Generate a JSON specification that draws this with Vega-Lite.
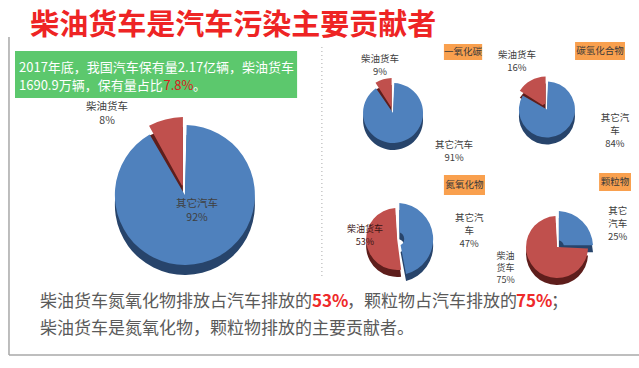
{
  "$schema": "https://vega.github.io/schema/vega-lite/v6.json",
  "background": "white",
  "padding": {"left": 8, "top": 12, "right": 2, "bottom": 0},
  "config": {"view": {"stroke": null}, "font": "Noto Sans CJK SC"},
  "title": {"text": "柴油货车是汽车污染主要贡献者", "anchor": "start", "dx": 22, "dy": 4, "fontSize": 29, "fontWeight": "bold", "color": "#ee2424", "font": "Noto Sans CJK SC", "offset": -1},
  "datasets": {
    "fleet": [
      {"cat": "其它汽车", "share": 92, "ord": 1, "label": "其它汽车\n92%"},
      {"cat": "柴油货车", "share": 8, "ord": 2, "label": "柴油货车\n8%"}
    ],
    "co": [
      {"cat": "其它汽车", "share": 91, "ord": 1, "label": "其它汽车\n91%"},
      {"cat": "柴油货车", "share": 9, "ord": 2, "label": "柴油货车\n9%"}
    ],
    "hc": [
      {"cat": "其它汽车", "share": 84, "ord": 1, "label": "其它汽\n车\n84%"},
      {"cat": "柴油货车", "share": 16, "ord": 2, "label": "柴油货车\n16%"}
    ],
    "nox": [
      {"cat": "其它汽车", "share": 47, "ord": 1, "label": "其它汽\n车\n47%"},
      {"cat": "柴油货车", "share": 53, "ord": 2, "label": "柴油货车\n53%"}
    ],
    "pm": [
      {"cat": "其它汽车", "share": 25, "ord": 1, "label": "其它\n汽车\n25%"},
      {"cat": "柴油货车", "share": 75, "ord": 2, "label": "柴油\n货车\n75%"}
    ],
    "note": [
      {"seg": "l1", "text": "2017年底，我国汽车保有量2.17亿辆，柴油货车"},
      {"seg": "l2a", "text": "1690.9万辆，保有量占比"},
      {"seg": "l2b", "text": "7.8%"},
      {"seg": "l2c", "text": "。"}
    ],
    "boxes": [
      {"pollutant": "一氧化碳"},
      {"pollutant": "碳氢化合物"},
      {"pollutant": "氮氧化物"},
      {"pollutant": "颗粒物"}
    ],
    "summary": [
      {"seg": "a", "text": "柴油货车氮氧化物排放占汽车排放的"},
      {"seg": "b", "text": "53%"},
      {"seg": "c", "text": "，颗粒物占汽车排放的"},
      {"seg": "d", "text": "75%"},
      {"seg": "e", "text": "；"},
      {"seg": "f", "text": "柴油货车是氮氧化物，颗粒物排放的主要贡献者。"}
    ]
  },
  "spacing": 2,
  "bounds": "flush",
  "hconcat": [
    {
      "width": 310,
      "height": 250,
      "layer": [
        {
          "data": {"name": "note"},
          "transform": [{"filter": "datum.seg=='l1'"}],
          "mark": {"type": "rule", "color": "#a8a8a8", "strokeWidth": 1.5},
          "encoding": {
            "x": {"datum": -0.0194, "type": "quantitative", "scale": {"domain": [0, 1]}, "axis": null},
            "x2": {"datum": 2.026},
            "y": {"datum": 1.272, "type": "quantitative", "scale": {"domain": [0, 1], "reverse": true}, "axis": null}
          }
        },
        {
          "data": {"name": "note"},
          "transform": [{"filter": "datum.seg=='l1'"}],
          "mark": {"type": "rule", "color": "#a8a8a8", "strokeWidth": 1.5},
          "encoding": {
            "x": {"datum": -0.0194, "type": "quantitative", "scale": {"domain": [0, 1]}, "axis": null},
            "y": {"datum": 0, "type": "quantitative", "scale": {"domain": [0, 1], "reverse": true}, "axis": null},
            "y2": {"datum": 1.272}
          }
        },
        {
          "data": {"name": "note"},
          "transform": [{"filter": "datum.seg=='l1'"}],
          "mark": {"type": "rule", "color": "#a8a8a8", "strokeWidth": 1.5},
          "encoding": {
            "x": {"datum": 2.026, "type": "quantitative", "scale": {"domain": [0, 1]}, "axis": null},
            "y": {"datum": 0, "type": "quantitative", "scale": {"domain": [0, 1], "reverse": true}, "axis": null},
            "y2": {"datum": 1.272}
          }
        },
        {
          "data": {"name": "note"},
          "transform": [{"filter": "datum.seg=='l1'"}],
          "mark": {"type": "rect", "color": "#5cc86d"},
          "encoding": {
            "x": {"datum": 0, "type": "quantitative", "scale": {"domain": [0, 1]}, "axis": null},
            "x2": {"datum": 0.91},
            "y": {"datum": 0.056, "type": "quantitative", "scale": {"domain": [0, 1], "reverse": true}, "axis": null},
            "y2": {"datum": 0.244}
          }
        },
        {
          "data": {"name": "note"},
          "transform": [{"filter": "datum.seg=='l1'"}],
          "mark": {"type": "text", "align": "left", "baseline": "middle", "fontSize": 13, "color": "white"},
          "encoding": {
            "text": {"field": "text"},
            "x": {"datum": 0.0129, "type": "quantitative", "scale": {"domain": [0, 1]}, "axis": null},
            "y": {"datum": 0.122, "type": "quantitative", "scale": {"domain": [0, 1], "reverse": true}, "axis": null}
          }
        },
        {
          "data": {"name": "note"},
          "transform": [{"filter": "datum.seg=='l2a'"}],
          "mark": {"type": "text", "align": "left", "baseline": "middle", "fontSize": 13, "color": "white"},
          "encoding": {
            "text": {"field": "text"},
            "x": {"datum": 0.0129, "type": "quantitative", "scale": {"domain": [0, 1]}, "axis": null},
            "y": {"datum": 0.196, "type": "quantitative", "scale": {"domain": [0, 1], "reverse": true}, "axis": null}
          }
        },
        {
          "data": {"name": "note"},
          "transform": [{"filter": "datum.seg=='l2b'"}],
          "mark": {"type": "text", "align": "left", "baseline": "middle", "fontSize": 13, "color": "#d9201c"},
          "encoding": {
            "text": {"field": "text"},
            "x": {"datum": 0.479, "type": "quantitative", "scale": {"domain": [0, 1]}, "axis": null},
            "y": {"datum": 0.196, "type": "quantitative", "scale": {"domain": [0, 1], "reverse": true}, "axis": null}
          }
        },
        {
          "data": {"name": "note"},
          "transform": [{"filter": "datum.seg=='l2c'"}],
          "mark": {"type": "text", "align": "left", "baseline": "middle", "fontSize": 13, "color": "white"},
          "encoding": {
            "text": {"field": "text"},
            "x": {"datum": 0.574, "type": "quantitative", "scale": {"domain": [0, 1]}, "axis": null},
            "y": {"datum": 0.196, "type": "quantitative", "scale": {"domain": [0, 1], "reverse": true}, "axis": null}
          }
        },
        {
          "data": {"name": "note"},
          "transform": [{"filter": "datum.seg=='l1'"}],
          "mark": {"type": "rule", "color": "#aaaaaa", "strokeDash": [1, 3], "strokeWidth": 1},
          "encoding": {
            "x": {"datum": 0.99, "type": "quantitative", "scale": {"domain": [0, 1]}, "axis": null},
            "y": {"datum": 0.04, "type": "quantitative", "scale": {"domain": [0, 1], "reverse": true}, "axis": null},
            "y2": {"datum": 0.96}
          }
        },
        {
          "data": {"name": "fleet"},
          "mark": {"type": "arc", "padAngle": 0.05, "radius": {"expr": "datum.cat=='柴油货车' ? 78 : 70"}, "radius2": {"expr": "datum.cat=='柴油货车' ? 10 : 0"}},
          "encoding": {
            "theta": {"field": "share", "type": "quantitative", "stack": true},
            "order": {"field": "ord"},
            "color": {"condition": {"test": "datum.cat=='柴油货车'", "value": "#5e1e1c"}, "value": "#27446b"},
            "x": {"datum": 0.548, "type": "quantitative", "scale": {"domain": [0, 1]}, "axis": null},
            "y": {"datum": 0.672, "type": "quantitative", "scale": {"domain": [0, 1], "reverse": true}, "axis": null}
          }
        },
        {
          "data": {"name": "fleet"},
          "mark": {"type": "arc", "padAngle": 0.05, "radius": {"expr": "datum.cat=='柴油货车' ? 78 : 70"}, "radius2": {"expr": "datum.cat=='柴油货车' ? 10 : 0"}},
          "encoding": {
            "theta": {"field": "share", "type": "quantitative", "stack": true},
            "order": {"field": "ord"},
            "color": {"condition": {"test": "datum.cat=='柴油货车'", "value": "#c0504d"}, "value": "#4f81bd"},
            "x": {"datum": 0.548, "type": "quantitative", "scale": {"domain": [0, 1]}, "axis": null},
            "y": {"datum": 0.632, "type": "quantitative", "scale": {"domain": [0, 1], "reverse": true}, "axis": null}
          }
        },
        {
          "data": {"name": "fleet"},
          "transform": [{"filter": "datum.cat=='柴油货车'"}],
          "mark": {"type": "text", "lineBreak": "\n", "lineHeight": 14, "fontSize": 10.5, "color": "#404040", "baseline": "middle"},
          "encoding": {
            "text": {"field": "label"},
            "x": {"datum": 0.297, "type": "quantitative", "scale": {"domain": [0, 1]}, "axis": null},
            "y": {"datum": 0.28, "type": "quantitative", "scale": {"domain": [0, 1], "reverse": true}, "axis": null}
          }
        },
        {
          "data": {"name": "fleet"},
          "transform": [{"filter": "datum.cat=='其它汽车'"}],
          "mark": {"type": "text", "lineBreak": "\n", "lineHeight": 14, "fontSize": 10.5, "color": "#404040", "baseline": "middle"},
          "encoding": {
            "text": {"field": "label"},
            "x": {"datum": 0.587, "type": "quantitative", "scale": {"domain": [0, 1]}, "axis": null},
            "y": {"datum": 0.668, "type": "quantitative", "scale": {"domain": [0, 1], "reverse": true}, "axis": null}
          }
        },
        {
          "data": {"name": "summary"},
          "transform": [{"filter": "datum.seg=='a'"}],
          "mark": {"type": "text", "align": "left", "baseline": "middle", "fontSize": 17, "color": "#5a5a5a"},
          "encoding": {
            "text": {"field": "text"},
            "x": {"datum": 0.0806, "type": "quantitative", "scale": {"domain": [0, 1]}, "axis": null},
            "y": {"datum": 1.058, "type": "quantitative", "scale": {"domain": [0, 1], "reverse": true}, "axis": null}
          }
        },
        {
          "data": {"name": "summary"},
          "transform": [{"filter": "datum.seg=='b'"}],
          "mark": {"type": "text", "align": "left", "baseline": "middle", "fontSize": 17, "fontWeight": "bold", "color": "#ee2a2a"},
          "encoding": {
            "text": {"field": "text"},
            "x": {"datum": 0.958, "type": "quantitative", "scale": {"domain": [0, 1]}, "axis": null},
            "y": {"datum": 1.058, "type": "quantitative", "scale": {"domain": [0, 1], "reverse": true}, "axis": null}
          }
        },
        {
          "data": {"name": "summary"},
          "transform": [{"filter": "datum.seg=='c'"}],
          "mark": {"type": "text", "align": "left", "baseline": "middle", "fontSize": 17, "color": "#5a5a5a"},
          "encoding": {
            "text": {"field": "text"},
            "x": {"datum": 1.071, "type": "quantitative", "scale": {"domain": [0, 1]}, "axis": null},
            "y": {"datum": 1.058, "type": "quantitative", "scale": {"domain": [0, 1], "reverse": true}, "axis": null}
          }
        },
        {
          "data": {"name": "summary"},
          "transform": [{"filter": "datum.seg=='d'"}],
          "mark": {"type": "text", "align": "left", "baseline": "middle", "fontSize": 17, "fontWeight": "bold", "color": "#ee2a2a"},
          "encoding": {
            "text": {"field": "text"},
            "x": {"datum": 1.616, "type": "quantitative", "scale": {"domain": [0, 1]}, "axis": null},
            "y": {"datum": 1.058, "type": "quantitative", "scale": {"domain": [0, 1], "reverse": true}, "axis": null}
          }
        },
        {
          "data": {"name": "summary"},
          "transform": [{"filter": "datum.seg=='e'"}],
          "mark": {"type": "text", "align": "left", "baseline": "middle", "fontSize": 17, "color": "#5a5a5a"},
          "encoding": {
            "text": {"field": "text"},
            "x": {"datum": 1.729, "type": "quantitative", "scale": {"domain": [0, 1]}, "axis": null},
            "y": {"datum": 1.058, "type": "quantitative", "scale": {"domain": [0, 1], "reverse": true}, "axis": null}
          }
        },
        {
          "data": {"name": "summary"},
          "transform": [{"filter": "datum.seg=='f'"}],
          "mark": {"type": "text", "align": "left", "baseline": "middle", "fontSize": 17, "color": "#5a5a5a"},
          "encoding": {
            "text": {"field": "text"},
            "x": {"datum": 0.0806, "type": "quantitative", "scale": {"domain": [0, 1]}, "axis": null},
            "y": {"datum": 1.166, "type": "quantitative", "scale": {"domain": [0, 1], "reverse": true}, "axis": null}
          }
        }
      ]
    },
    {
      "width": 316,
      "height": 250,
      "layer": [
        {
          "data": {"name": "boxes"},
          "transform": [{"filter": "datum.pollutant=='一氧化碳'"}],
          "mark": {"type": "rect", "color": "#f9a04e"},
          "encoding": {
            "x": {"datum": 0.37, "type": "quantitative", "scale": {"domain": [0, 1]}, "axis": null},
            "x2": {"datum": 0.491},
            "y": {"datum": 0.028, "type": "quantitative", "scale": {"domain": [0, 1], "reverse": true}, "axis": null},
            "y2": {"datum": 0.092}
          }
        },
        {
          "data": {"name": "boxes"},
          "transform": [{"filter": "datum.pollutant=='碳氢化合物'"}],
          "mark": {"type": "rect", "color": "#f9a04e"},
          "encoding": {
            "x": {"datum": 0.785, "type": "quantitative", "scale": {"domain": [0, 1]}, "axis": null},
            "x2": {"datum": 0.943},
            "y": {"datum": 0.02, "type": "quantitative", "scale": {"domain": [0, 1], "reverse": true}, "axis": null},
            "y2": {"datum": 0.092}
          }
        },
        {
          "data": {"name": "boxes"},
          "transform": [{"filter": "datum.pollutant=='氮氧化物'"}],
          "mark": {"type": "rect", "color": "#f9a04e"},
          "encoding": {
            "x": {"datum": 0.37, "type": "quantitative", "scale": {"domain": [0, 1]}, "axis": null},
            "x2": {"datum": 0.5},
            "y": {"datum": 0.552, "type": "quantitative", "scale": {"domain": [0, 1], "reverse": true}, "axis": null},
            "y2": {"datum": 0.632}
          }
        },
        {
          "data": {"name": "boxes"},
          "transform": [{"filter": "datum.pollutant=='颗粒物'"}],
          "mark": {"type": "rect", "color": "#f9a04e"},
          "encoding": {
            "x": {"datum": 0.861, "type": "quantitative", "scale": {"domain": [0, 1]}, "axis": null},
            "x2": {"datum": 0.962},
            "y": {"datum": 0.544, "type": "quantitative", "scale": {"domain": [0, 1], "reverse": true}, "axis": null},
            "y2": {"datum": 0.616}
          }
        },
        {
          "data": {"name": "boxes"},
          "transform": [{"filter": "datum.pollutant=='一氧化碳'"}],
          "mark": {"type": "text", "fontSize": 9.5, "color": "#3a3a3a", "baseline": "middle"},
          "encoding": {
            "text": {"field": "pollutant"},
            "x": {"datum": 0.43, "type": "quantitative", "scale": {"domain": [0, 1]}, "axis": null},
            "y": {"datum": 0.06, "type": "quantitative", "scale": {"domain": [0, 1], "reverse": true}, "axis": null}
          }
        },
        {
          "data": {"name": "boxes"},
          "transform": [{"filter": "datum.pollutant=='碳氢化合物'"}],
          "mark": {"type": "text", "fontSize": 9.5, "color": "#3a3a3a", "baseline": "middle"},
          "encoding": {
            "text": {"field": "pollutant"},
            "x": {"datum": 0.864, "type": "quantitative", "scale": {"domain": [0, 1]}, "axis": null},
            "y": {"datum": 0.056, "type": "quantitative", "scale": {"domain": [0, 1], "reverse": true}, "axis": null}
          }
        },
        {
          "data": {"name": "boxes"},
          "transform": [{"filter": "datum.pollutant=='氮氧化物'"}],
          "mark": {"type": "text", "fontSize": 9.5, "color": "#3a3a3a", "baseline": "middle"},
          "encoding": {
            "text": {"field": "pollutant"},
            "x": {"datum": 0.435, "type": "quantitative", "scale": {"domain": [0, 1]}, "axis": null},
            "y": {"datum": 0.592, "type": "quantitative", "scale": {"domain": [0, 1], "reverse": true}, "axis": null}
          }
        },
        {
          "data": {"name": "boxes"},
          "transform": [{"filter": "datum.pollutant=='颗粒物'"}],
          "mark": {"type": "text", "fontSize": 9.5, "color": "#3a3a3a", "baseline": "middle"},
          "encoding": {
            "text": {"field": "pollutant"},
            "x": {"datum": 0.911, "type": "quantitative", "scale": {"domain": [0, 1]}, "axis": null},
            "y": {"datum": 0.58, "type": "quantitative", "scale": {"domain": [0, 1], "reverse": true}, "axis": null}
          }
        },
        {
          "data": {"name": "co"},
          "mark": {"type": "arc", "padAngle": 0.08, "radius": {"expr": "datum.cat=='柴油货车' ? 35 : 30"}, "radius2": {"expr": "datum.cat=='柴油货车' ? 6 : 0"}},
          "encoding": {
            "theta": {"field": "share", "type": "quantitative", "stack": true},
            "order": {"field": "ord"},
            "color": {"condition": {"test": "datum.cat=='柴油货车'", "value": "#5e1e1c"}, "value": "#27446b"},
            "x": {"datum": 0.209, "type": "quantitative", "scale": {"domain": [0, 1]}, "axis": null},
            "y": {"datum": 0.332, "type": "quantitative", "scale": {"domain": [0, 1], "reverse": true}, "axis": null}
          }
        },
        {
          "data": {"name": "co"},
          "mark": {"type": "arc", "padAngle": 0.08, "radius": {"expr": "datum.cat=='柴油货车' ? 35 : 30"}, "radius2": {"expr": "datum.cat=='柴油货车' ? 6 : 0"}},
          "encoding": {
            "theta": {"field": "share", "type": "quantitative", "stack": true},
            "order": {"field": "ord"},
            "color": {"condition": {"test": "datum.cat=='柴油货车'", "value": "#c0504d"}, "value": "#4f81bd"},
            "x": {"datum": 0.209, "type": "quantitative", "scale": {"domain": [0, 1]}, "axis": null},
            "y": {"datum": 0.304, "type": "quantitative", "scale": {"domain": [0, 1], "reverse": true}, "axis": null}
          }
        },
        {
          "data": {"name": "co"},
          "transform": [{"filter": "datum.cat=='柴油货车'"}],
          "mark": {"type": "text", "lineBreak": "\n", "lineHeight": 13, "fontSize": 9.5, "color": "#404040", "baseline": "middle"},
          "encoding": {
            "text": {"field": "label"},
            "x": {"datum": 0.168, "type": "quantitative", "scale": {"domain": [0, 1]}, "axis": null},
            "y": {"datum": 0.088, "type": "quantitative", "scale": {"domain": [0, 1], "reverse": true}, "axis": null}
          }
        },
        {
          "data": {"name": "co"},
          "transform": [{"filter": "datum.cat=='其它汽车'"}],
          "mark": {"type": "text", "lineBreak": "\n", "lineHeight": 13, "fontSize": 9.5, "color": "#404040", "baseline": "middle"},
          "encoding": {
            "text": {"field": "label"},
            "x": {"datum": 0.402, "type": "quantitative", "scale": {"domain": [0, 1]}, "axis": null},
            "y": {"datum": 0.432, "type": "quantitative", "scale": {"domain": [0, 1], "reverse": true}, "axis": null}
          }
        },
        {
          "data": {"name": "hc"},
          "mark": {"type": "arc", "padAngle": 0.08, "radius": {"expr": "datum.cat=='柴油货车' ? 33 : 28"}, "radius2": {"expr": "datum.cat=='柴油货车' ? 6 : 0"}},
          "encoding": {
            "theta": {"field": "share", "type": "quantitative", "stack": true},
            "order": {"field": "ord"},
            "color": {"condition": {"test": "datum.cat=='柴油货车'", "value": "#5e1e1c"}, "value": "#27446b"},
            "x": {"datum": 0.696, "type": "quantitative", "scale": {"domain": [0, 1]}, "axis": null},
            "y": {"datum": 0.318, "type": "quantitative", "scale": {"domain": [0, 1], "reverse": true}, "axis": null}
          }
        },
        {
          "data": {"name": "hc"},
          "mark": {"type": "arc", "padAngle": 0.08, "radius": {"expr": "datum.cat=='柴油货车' ? 33 : 28"}, "radius2": {"expr": "datum.cat=='柴油货车' ? 6 : 0"}},
          "encoding": {
            "theta": {"field": "share", "type": "quantitative", "stack": true},
            "order": {"field": "ord"},
            "color": {"condition": {"test": "datum.cat=='柴油货车'", "value": "#c0504d"}, "value": "#4f81bd"},
            "x": {"datum": 0.696, "type": "quantitative", "scale": {"domain": [0, 1]}, "axis": null},
            "y": {"datum": 0.29, "type": "quantitative", "scale": {"domain": [0, 1], "reverse": true}, "axis": null}
          }
        },
        {
          "data": {"name": "hc"},
          "transform": [{"filter": "datum.cat=='柴油货车'"}],
          "mark": {"type": "text", "lineBreak": "\n", "lineHeight": 13, "fontSize": 9.5, "color": "#404040", "baseline": "middle"},
          "encoding": {
            "text": {"field": "label"},
            "x": {"datum": 0.601, "type": "quantitative", "scale": {"domain": [0, 1]}, "axis": null},
            "y": {"datum": 0.072, "type": "quantitative", "scale": {"domain": [0, 1], "reverse": true}, "axis": null}
          }
        },
        {
          "data": {"name": "hc"},
          "transform": [{"filter": "datum.cat=='其它汽车'"}],
          "mark": {"type": "text", "lineBreak": "\n", "lineHeight": 13, "fontSize": 9.5, "color": "#404040", "baseline": "middle"},
          "encoding": {
            "text": {"field": "label"},
            "x": {"datum": 0.911, "type": "quantitative", "scale": {"domain": [0, 1]}, "axis": null},
            "y": {"datum": 0.324, "type": "quantitative", "scale": {"domain": [0, 1], "reverse": true}, "axis": null}
          }
        },
        {
          "data": {"name": "nox"},
          "mark": {"type": "arc", "padAngle": 0.12, "radius": {"expr": "datum.cat=='其它汽车' ? 36 : 31"}, "radius2": {"expr": "datum.cat=='其它汽车' ? 7 : 0"}},
          "encoding": {
            "theta": {"field": "share", "type": "quantitative", "stack": true},
            "order": {"field": "ord"},
            "color": {"condition": {"test": "datum.cat=='柴油货车'", "value": "#5e1e1c"}, "value": "#27446b"},
            "x": {"datum": 0.222, "type": "quantitative", "scale": {"domain": [0, 1]}, "axis": null},
            "y": {"datum": 0.836, "type": "quantitative", "scale": {"domain": [0, 1], "reverse": true}, "axis": null}
          }
        },
        {
          "data": {"name": "nox"},
          "mark": {"type": "arc", "padAngle": 0.12, "radius": {"expr": "datum.cat=='其它汽车' ? 36 : 31"}, "radius2": {"expr": "datum.cat=='其它汽车' ? 7 : 0"}},
          "encoding": {
            "theta": {"field": "share", "type": "quantitative", "stack": true},
            "order": {"field": "ord"},
            "color": {"condition": {"test": "datum.cat=='柴油货车'", "value": "#c0504d"}, "value": "#4f81bd"},
            "x": {"datum": 0.222, "type": "quantitative", "scale": {"domain": [0, 1]}, "axis": null},
            "y": {"datum": 0.808, "type": "quantitative", "scale": {"domain": [0, 1], "reverse": true}, "axis": null}
          }
        },
        {
          "data": {"name": "nox"},
          "transform": [{"filter": "datum.cat=='柴油货车'"}],
          "mark": {"type": "text", "lineBreak": "\n", "lineHeight": 13, "fontSize": 9, "color": "#3a1514", "baseline": "middle"},
          "encoding": {
            "text": {"field": "label"},
            "x": {"datum": 0.12, "type": "quantitative", "scale": {"domain": [0, 1]}, "axis": null},
            "y": {"datum": 0.768, "type": "quantitative", "scale": {"domain": [0, 1], "reverse": true}, "axis": null}
          }
        },
        {
          "data": {"name": "nox"},
          "transform": [{"filter": "datum.cat=='其它汽车'"}],
          "mark": {"type": "text", "lineBreak": "\n", "lineHeight": 13, "fontSize": 9.5, "color": "#404040", "baseline": "middle"},
          "encoding": {
            "text": {"field": "label"},
            "x": {"datum": 0.45, "type": "quantitative", "scale": {"domain": [0, 1]}, "axis": null},
            "y": {"datum": 0.724, "type": "quantitative", "scale": {"domain": [0, 1], "reverse": true}, "axis": null}
          }
        },
        {
          "data": {"name": "pm"},
          "mark": {"type": "arc", "padAngle": 0.1, "radius": {"expr": "datum.cat=='其它汽车' ? 36 : 31"}, "radius2": {"expr": "datum.cat=='其它汽车' ? 7 : 0"}},
          "encoding": {
            "theta": {"field": "share", "type": "quantitative", "stack": true},
            "order": {"field": "ord"},
            "color": {"condition": {"test": "datum.cat=='柴油货车'", "value": "#5e1e1c"}, "value": "#27446b"},
            "x": {"datum": 0.728, "type": "quantitative", "scale": {"domain": [0, 1]}, "axis": null},
            "y": {"datum": 0.868, "type": "quantitative", "scale": {"domain": [0, 1], "reverse": true}, "axis": null}
          }
        },
        {
          "data": {"name": "pm"},
          "mark": {"type": "arc", "padAngle": 0.1, "radius": {"expr": "datum.cat=='其它汽车' ? 36 : 31"}, "radius2": {"expr": "datum.cat=='其它汽车' ? 7 : 0"}},
          "encoding": {
            "theta": {"field": "share", "type": "quantitative", "stack": true},
            "order": {"field": "ord"},
            "color": {"condition": {"test": "datum.cat=='柴油货车'", "value": "#c0504d"}, "value": "#4f81bd"},
            "x": {"datum": 0.728, "type": "quantitative", "scale": {"domain": [0, 1]}, "axis": null},
            "y": {"datum": 0.84, "type": "quantitative", "scale": {"domain": [0, 1], "reverse": true}, "axis": null}
          }
        },
        {
          "data": {"name": "pm"},
          "transform": [{"filter": "datum.cat=='其它汽车'"}],
          "mark": {"type": "text", "lineBreak": "\n", "lineHeight": 13, "fontSize": 9.5, "color": "#404040", "baseline": "middle"},
          "encoding": {
            "text": {"field": "label"},
            "x": {"datum": 0.92, "type": "quantitative", "scale": {"domain": [0, 1]}, "axis": null},
            "y": {"datum": 0.696, "type": "quantitative", "scale": {"domain": [0, 1], "reverse": true}, "axis": null}
          }
        },
        {
          "data": {"name": "pm"},
          "transform": [{"filter": "datum.cat=='柴油货车'"}],
          "mark": {"type": "text", "lineBreak": "\n", "lineHeight": 12, "fontSize": 9, "color": "#404040", "baseline": "middle"},
          "encoding": {
            "text": {"field": "label"},
            "x": {"datum": 0.565, "type": "quantitative", "scale": {"domain": [0, 1]}, "axis": null},
            "y": {"datum": 0.876, "type": "quantitative", "scale": {"domain": [0, 1], "reverse": true}, "axis": null}
          }
        }
      ]
    }
  ]
}
